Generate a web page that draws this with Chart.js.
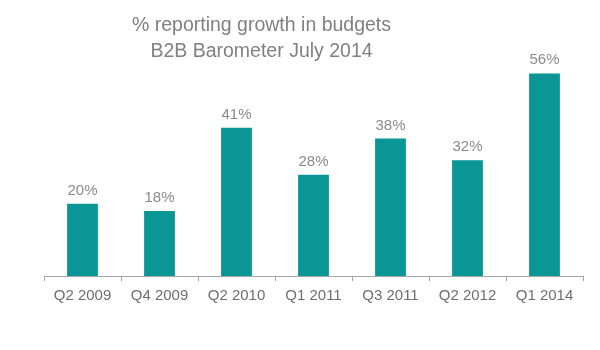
<!DOCTYPE html>
<html>
<head>
<meta charset="utf-8">
<script src="https://cdn.jsdelivr.net/npm/chart.js@4"></script>
<style>
  html, body { margin: 0; padding: 0; background: #fff; }
  #wrap { width: 600px; height: 350px; position: relative; }
</style>
</head>
<body>
<div id="wrap"><canvas id="budgetChart"></canvas></div>
<script>
// 数据
const quarters = ['Q2 2009', 'Q4 2009', 'Q2 2010', 'Q1 2011', 'Q3 2011', 'Q2 2012', 'Q1 2014'];
const growthPct = [20, 18, 41, 28, 38, 32, 56];
const titleLines = ['% reporting growth in budgets', 'B2B Barometer July 2014'];

const FONT = '"Liberation Sans", Arial, sans-serif';

// 标题 (off-centre in the original, so drawn by hand)
const titlePlugin = {
    id: 'titleLines',
    afterDraw(chart) {
        const ctx = chart.ctx;
        ctx.save();
        ctx.font = '19.5px ' + FONT;
        ctx.fillStyle = '#808080';
        ctx.textAlign = 'center';
        ctx.textBaseline = 'alphabetic';
        ctx.fillText(titleLines[0], 261.5, 31);
        ctx.fillText(titleLines[1], 261.5, 57);
        ctx.restore();
    }
};

// 柱顶数值
const valueLabels = {
    id: 'valueLabels',
    afterDatasetsDraw(chart) {
        const ctx = chart.ctx;
        const meta = chart.getDatasetMeta(0);
        ctx.save();
        ctx.font = '15px ' + FONT;
        ctx.fillStyle = '#8a8a8a';
        ctx.textAlign = 'center';
        ctx.textBaseline = 'alphabetic';
        meta.data.forEach((bar, i) => {
            ctx.fillText(growthPct[i] + '%', bar.x, bar.y - 9);
        });
        ctx.restore();
    }
};

new Chart(document.getElementById('budgetChart'), {
    type: 'bar',
    data: {
        labels: quarters,
        datasets: [{
            data: growthPct,
            backgroundColor: '#099695',
            borderWidth: 0,
            barPercentage: 0.4,
            categoryPercentage: 1
        }]
    },
    options: {
        responsive: true,
        maintainAspectRatio: false,
        animation: false,
        layout: { padding: { top: 59, left: 44, right: 17, bottom: 39 } },
        plugins: {
            legend: { display: false },
            title: { display: false },
            tooltip: { enabled: false }
        },
        scales: {
            x: {
                border: { display: true, color: '#a6a6a6', width: 1 },
                grid: { drawOnChartArea: false, color: '#a6a6a6', tickLength: 5, offset: true },
                ticks: { color: '#6e6e6e', padding: 6, font: { family: FONT, size: 15 } }
            },
            y: {
                display: false,
                min: 0,
                max: 60
            }
        }
    },
    plugins: [titlePlugin, valueLabels]
});
</script>
</body>
</html>
